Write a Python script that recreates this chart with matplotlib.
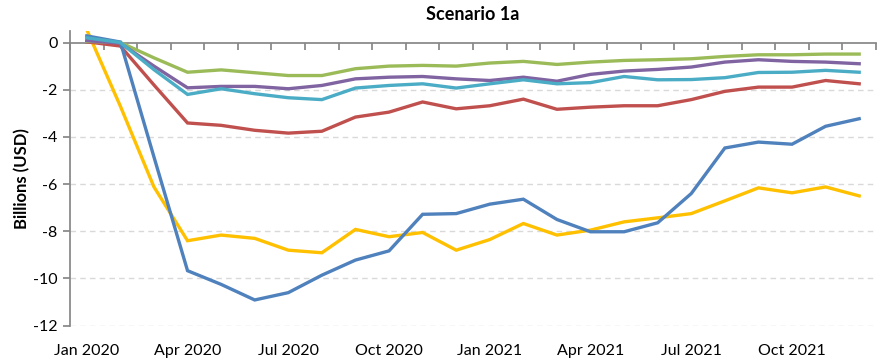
import matplotlib.pyplot as plt
import pandas as pd

# monthly series, Jan 2020 .. Dec 2021 (billions USD)
months = pd.date_range("2020-01-01", "2021-12-01", freq="MS")

yellow = [0.54, -2.7, -6.12, -8.40, -8.16, -8.30, -8.80, -8.91, -7.92, -8.23, -8.05, -8.80,
          -8.35, -7.67, -8.16, -7.95, -7.60, -7.43, -7.25, -6.71, -6.16, -6.37, -6.12, -6.50]
red = [0.03, -0.15, -1.80, -3.41, -3.51, -3.72, -3.84, -3.76, -3.16, -2.95, -2.52, -2.81,
       -2.68, -2.40, -2.83, -2.74, -2.68, -2.68, -2.42, -2.07, -1.89, -1.89, -1.61, -1.75]
green = [0.05, 0.0, -0.65, -1.26, -1.16, -1.28, -1.40, -1.40, -1.11, -1.00, -0.97, -1.00,
         -0.87, -0.80, -0.93, -0.83, -0.76, -0.73, -0.69, -0.59, -0.52, -0.52, -0.49, -0.49]
purple = [0.08, -0.03, -1.00, -1.92, -1.86, -1.86, -1.96, -1.82, -1.54, -1.47, -1.44, -1.54,
          -1.61, -1.47, -1.64, -1.35, -1.21, -1.14, -1.04, -0.83, -0.73, -0.80, -0.83, -0.90]
blue = [0.28, 0.02, -4.85, -9.67, -10.25, -10.91, -10.60, -9.86, -9.22, -8.83, -7.28, -7.25,
        -6.85, -6.64, -7.50, -8.02, -8.02, -7.64, -6.40, -4.47, -4.22, -4.31, -3.55, -3.23]
cyan = [0.20, 0.0, -1.15, -2.20, -1.96, -2.17, -2.34, -2.42, -1.93, -1.82, -1.75, -1.93,
        -1.75, -1.58, -1.75, -1.70, -1.44, -1.58, -1.57, -1.49, -1.27, -1.26, -1.18, -1.26]

series = [
    (yellow, "#FFC000"),
    (red, "#C0504D"),
    (green, "#9BBB59"),
    (purple, "#8064A2"),
    (blue, "#4F81BD"),
    (cyan, "#4BACC6"),
]

yticks = [0, -2, -4, -6, -8, -10, -12]

plt.rcParams["font.family"] = ["Lato", "DejaVu Sans"]

fig = plt.figure(figsize=(8.85, 3.63), dpi=100)
ax = fig.add_axes([0.0791, 0.1028, 0.9107, 0.8126])

x = list(range(len(months)))
for vals, col in series:
    ax.plot(x, vals, color=col, lw=2.4, solid_joinstyle="miter", zorder=3)

ax.set_xlim(-0.5, len(months) - 0.5)
ax.set_ylim(-12, 0.5)

# dashed gridlines below zero only
for v in yticks[1:]:
    ax.axhline(v, color="#D9D9D9", lw=1.0, ls=(0, (4, 3)), zorder=1)

axis_col = "#868686"
for side in ["top", "right"]:
    ax.spines[side].set_visible(False)
ax.spines["left"].set_color(axis_col)
ax.spines["left"].set_linewidth(1.25)
ax.spines["bottom"].set_position(("data", 0))
ax.spines["bottom"].set_color(axis_col)
ax.spines["bottom"].set_linewidth(1.25)
ax.spines["bottom"].set_zorder(2)

ax.set_yticks(yticks)
ax.set_yticklabels([str(v) for v in yticks], fontsize=11.5)
ax.tick_params(axis="y", length=5, width=1.25, color=axis_col, pad=4)

# category boundaries as ticks on the zero line, labels at the bottom
ax.set_xticks([i - 0.5 for i in range(len(months) + 1)])
ax.set_xticklabels([])
ax.tick_params(axis="x", length=5, width=1.25, color=axis_col, direction="out")

for i, m in enumerate(months):
    if i % 3 == 0:
        ax.text(i, -0.085, m.strftime("%b %Y"), transform=ax.get_xaxis_transform(),
                ha="center", va="center", fontsize=11.5)

ax.set_ylabel("Billions (USD)", fontsize=12, fontweight="bold", labelpad=2)
ax.set_title("Scenario 1a", fontsize=13, fontweight="bold", pad=8)

fig.savefig("out.png", dpi=100)
